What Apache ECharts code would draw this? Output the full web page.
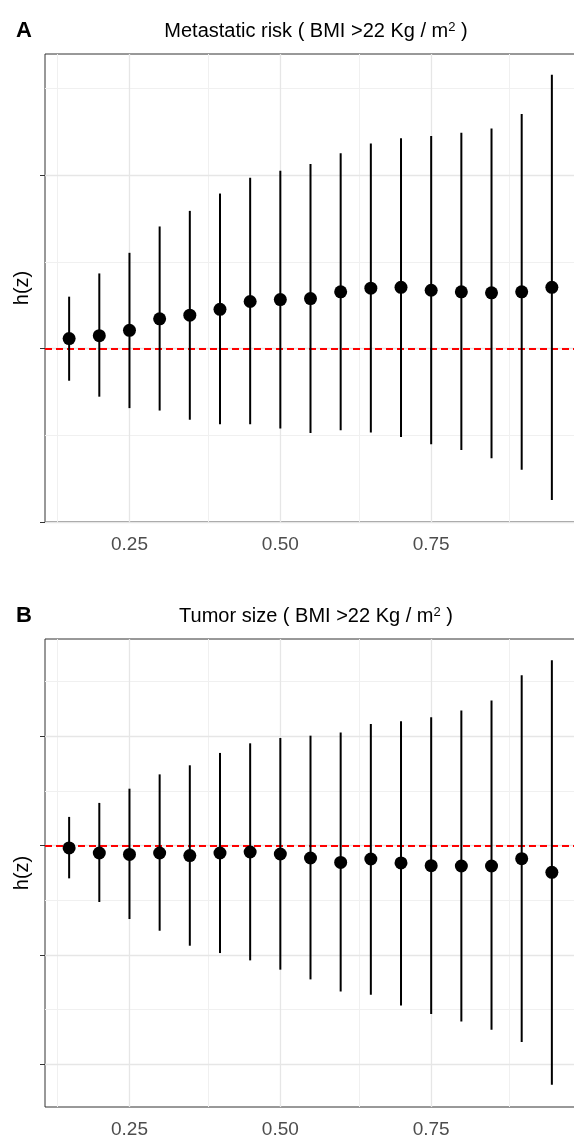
<!DOCTYPE html>
<html>
<head>
<meta charset="utf-8">
<script src="https://cdn.jsdelivr.net/npm/echarts@6/dist/echarts.min.js"></script>
<style>
  html, body { margin: 0; padding: 0; background: #fff; }
  #main { width: 574px; height: 1135px; }
</style>
</head>
<body>
<div id="main"></div>
<script>
// z values (x axis)
const zGrid = [0.15, 0.20, 0.25, 0.30, 0.35, 0.40, 0.45, 0.50, 0.55, 0.60, 0.65, 0.70, 0.75, 0.80, 0.85, 0.90, 0.95];

// panel A: metastatic risk
const riskEst = [0.058, 0.075, 0.106, 0.172, 0.193, 0.227, 0.272, 0.283, 0.289, 0.328, 0.349, 0.354, 0.337, 0.328, 0.322, 0.328, 0.354];
const riskLo = [-0.185, -0.277, -0.343, -0.357, -0.410, -0.436, -0.436, -0.461, -0.486, -0.471, -0.483, -0.509, -0.551, -0.584, -0.632, -0.699, -0.873];
const riskHi = [0.300, 0.434, 0.553, 0.705, 0.795, 0.895, 0.986, 1.026, 1.066, 1.127, 1.184, 1.214, 1.227, 1.245, 1.270, 1.354, 1.580];

// panel B: tumor size
const sizeEst = [-0.021, -0.067, -0.080, -0.067, -0.091, -0.067, -0.058, -0.076, -0.113, -0.153, -0.122, -0.158, -0.183, -0.186, -0.186, -0.119, -0.244];
const sizeLo = [-0.299, -0.515, -0.671, -0.778, -0.915, -0.982, -1.049, -1.134, -1.223, -1.333, -1.363, -1.461, -1.540, -1.607, -1.683, -1.796, -2.187];
const sizeHi = [0.263, 0.391, 0.521, 0.652, 0.735, 0.848, 0.936, 0.985, 1.006, 1.034, 1.113, 1.137, 1.174, 1.235, 1.327, 1.558, 1.695];

// axis breaks
const xRange = [0.11, 0.99];
const xMajor = [0.25, 0.50, 0.75];
const xMinor = [0.125, 0.375, 0.625, 0.875];
const riskRange = [-1.0, 1.70];
const riskMajor = [-1, 0, 1];
const riskMinor = [-0.5, 0.5, 1.5];
const sizeRange = [-2.39, 1.89];
const sizeMajor = [-2, -1, 0, 1];
const sizeMinor = [-1.5, -0.5, 0.5, 1.5];

const FONT = 'Liberation Sans, Arial, sans-serif';
const chart = echarts.init(document.getElementById('main'));

function gridLines(xs, ys, color, width) {
    return xs.map(v => ({xAxis: v, lineStyle: {color: color, width: width, type: 'solid'}}))
        .concat(ys.map(v => ({yAxis: v, lineStyle: {color: color, width: width, type: 'solid'}})));
}

function panel(i, top, yRange, yMajor, yMinor, est, lo, hi) {
    return {
        grid: {left: 45, top: top, width: 531, height: 468, show: true, outerBoundsMode: 'none',
            containLabel: false, borderColor: '#333', borderWidth: 1, backgroundColor: 'transparent'},
        xAxis: {
            type: 'value', gridIndex: i, min: xRange[0], max: xRange[1],
            axisLine: {show: false},
            splitLine: {show: false},
            axisTick: {show: true, length: 5, customValues: xMajor, lineStyle: {color: '#333'}},
            axisLabel: {customValues: xMajor, formatter: v => v.toFixed(2), color: '#4D4D4D',
                fontSize: 19, fontFamily: FONT, margin: 13}
        },
        yAxis: {
            type: 'value', gridIndex: i, min: yRange[0], max: yRange[1],
            name: 'h(z)', nameLocation: 'middle', nameRotate: 90, nameGap: 13,
            nameTextStyle: {fontSize: 20, fontFamily: FONT, color: '#000'},
            axisLine: {show: false},
            splitLine: {show: false},
            axisTick: {show: true, length: 5, customValues: yMajor, lineStyle: {color: '#333'}},
            axisLabel: {show: false}
        },
        series: [
            {   // panel grid lines
                type: 'line', xAxisIndex: i, yAxisIndex: i, data: [], z: 0, silent: true,
                markLine: {
                    silent: true, symbol: ['none', 'none'], label: {show: false}, z: 0,
                    animation: false,
                    data: gridLines(xMinor, yMinor, '#F0F0F0', 1).concat(gridLines(xMajor, yMajor, '#E6E6E6', 1.3))
                }
            },
            {   // reference line at 0
                type: 'line', xAxisIndex: i, yAxisIndex: i, data: [], z: 2, silent: true,
                markLine: {
                    silent: true, symbol: ['none', 'none'], label: {show: false}, z: 2,
                    animation: false,
                    data: [{yAxis: 0, lineStyle: {color: '#FF0000', width: 2, type: [7, 4]}}]
                }
            },
            {   // confidence intervals
                type: 'custom', xAxisIndex: i, yAxisIndex: i, z: 3, silent: true,
                encode: {x: 0, y: [1, 2]},
                data: zGrid.map((z, k) => [z, lo[k], hi[k]]),
                renderItem: function (params, api) {
                    const a = api.coord([api.value(0), api.value(1)]);
                    const b = api.coord([api.value(0), api.value(2)]);
                    return {type: 'line', shape: {x1: a[0], y1: a[1], x2: b[0], y2: b[1]},
                        style: {stroke: '#000', lineWidth: 2}};
                }
            },
            {   // estimates
                type: 'scatter', xAxisIndex: i, yAxisIndex: i, z: 4, silent: true,
                symbolSize: 13, itemStyle: {color: '#000', opacity: 1},
                data: zGrid.map((z, k) => [z, est[k]])
            }
        ]
    };
}

const pA = panel(0, 54, riskRange, riskMajor, riskMinor, riskEst, riskLo, riskHi);
const pB = panel(1, 639, sizeRange, sizeMajor, sizeMinor, sizeEst, sizeLo, sizeHi);

function titleText(s) {
    return '{t|' + s + ' ( BMI >22 Kg / m}{s|2}{t| )}';
}
const titleRich = {
    t: {fontSize: 20, fontFamily: FONT, fontWeight: 'normal', color: '#000'},
    s: {fontSize: 13, fontFamily: FONT, fontWeight: 'normal', color: '#000', verticalAlign: 'top', padding: [0, 0, 8, 0]}
};

chart.setOption({
    animation: false,
    title: [
        {text: 'A', left: 11, top: 15, textStyle: {fontSize: 22, fontWeight: 'bold', fontFamily: FONT, color: '#000'}},
        {text: titleText('Metastatic risk'), left: 311, top: 16, textAlign: 'center',
            textStyle: {fontWeight: 'normal', rich: titleRich}},
        {text: 'B', left: 11, top: 600, textStyle: {fontSize: 22, fontWeight: 'bold', fontFamily: FONT, color: '#000'}},
        {text: titleText('Tumor size'), left: 311, top: 601, textAlign: 'center',
            textStyle: {fontWeight: 'normal', rich: titleRich}}
    ],
    grid: [pA.grid, pB.grid],
    xAxis: [pA.xAxis, pB.xAxis],
    yAxis: [pA.yAxis, pB.yAxis],
    series: pA.series.concat(pB.series)
});
</script>
</body>
</html>
